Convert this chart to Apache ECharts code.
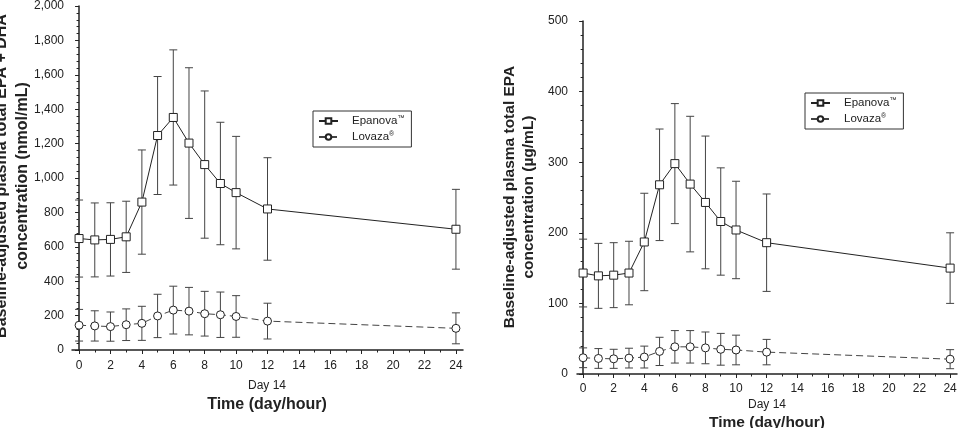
<!DOCTYPE html>
<html>
<head>
<meta charset="utf-8">
<script src="https://cdn.jsdelivr.net/npm/echarts@6/dist/echarts.min.js"></script>
<style>
  html, body { margin: 0; padding: 0; background: #fff; }
  #chart { width: 962px; height: 428px; }
</style>
</head>
<body>
<div id="chart"></div>
<script>
// hours after dosing on day 14
var hours = [0, 1, 2, 3, 4, 5, 6, 7, 8, 9, 10, 12, 24];
var hourLabels = [0, 2, 4, 6, 8, 10, 12, 14, 16, 18, 20, 22, 24];
var hourMinor = [1, 3, 5, 7, 9, 11, 13, 15, 17, 19, 21, 23];

// left panel: EPA + DHA (nmol/mL), mean and SD
var dhaEpanova = [648, 640, 643, 658, 860, 1247, 1352, 1203, 1078, 968, 915, 820, 702];
var dhaEpanovaSd = [224, 215, 213, 207, 303, 343, 393, 438, 428, 356, 327, 298, 232];
var dhaLovaza = [144, 140, 136, 147, 155, 198, 232, 226, 211, 205, 195, 168, 126];
var dhaLovazaSd = [92, 88, 85, 92, 99, 126, 139, 138, 130, 132, 121, 104, 90];

// right panel: EPA (ug/mL), mean and SD
var epaEpanova = [143, 139, 140, 143, 187, 268, 298, 269, 243, 216, 204, 186, 150];
var epaEpanovaSd = [48, 46, 46, 45, 69, 79, 85, 96, 94, 76, 69, 69, 50];
var epaLovaza = [23, 22, 21.5, 22.5, 24, 32, 38.5, 38.5, 37, 35, 34, 31, 21];
var epaLovazaSd = [14, 14, 13.5, 14, 15.5, 20, 23, 23, 22.5, 22.5, 21, 18, 13.5];

var FONT = '"Liberation Sans", Arial, sans-serif';
var INK = '#222';

function pts(ys) {
    return hours.map(function (h, i) { return [h, ys[i]]; });
}
function bars(ys, sd) {
    return hours.map(function (h, i) { return [h, ys[i] - sd[i], ys[i] + sd[i]]; });
}
function comma(v) {
    return String(v).replace(/\B(?=(\d{3})+(?!\d))/g, ',');
}

// error bar with caps
function errorBar(params, api) {
    var x = api.value(0);
    var a = api.coord([x, api.value(2)]);
    var b = api.coord([x, api.value(1)]);
    var w = 4;
    var st = { stroke: '#444', lineWidth: 1 };
    return {
        type: 'group',
        children: [
            { type: 'line', shape: { x1: a[0], y1: a[1], x2: b[0], y2: b[1] }, style: st },
            { type: 'line', shape: { x1: a[0] - w, y1: a[1], x2: a[0] + w, y2: a[1] }, style: st },
            { type: 'line', shape: { x1: b[0] - w, y1: b[1], x2: b[0] + w, y2: b[1] }, style: st }
        ]
    };
}

function xAxes(grid, min, max, margin) {
    return [
        {
            type: 'value', gridIndex: grid, min: min, max: max, position: 'bottom',
            axisLine: { lineStyle: { color: INK, width: 1.5 } },
            axisTick: { customValues: hourLabels, length: 4, lineStyle: { color: INK } },
            axisLabel: { customValues: hourLabels, margin: margin, color: INK, fontSize: 12, fontFamily: FONT },
            splitLine: { show: false }
        },
        {
            type: 'value', gridIndex: grid, min: min, max: max, position: 'bottom',
            axisLine: { show: false },
            axisTick: { customValues: hourMinor, length: 2.5, lineStyle: { color: INK } },
            axisLabel: { show: false },
            splitLine: { show: false }
        }
    ];
}

function yAxis(grid, max, step, margin, fmt) {
    return {
        type: 'value', gridIndex: grid, min: 0, max: max, interval: step,
        axisLine: { show: true, lineStyle: { color: INK, width: 1.5 } },
        axisTick: { show: true, length: 4, lineStyle: { color: INK } },
        minorTick: { show: true, splitNumber: 5, length: 2.5, lineStyle: { color: INK } },
        axisLabel: { margin: margin, color: INK, fontSize: 12, fontFamily: FONT, formatter: fmt },
        splitLine: { show: false }
    };
}

function lineSeries(name, data, xi, yi, dashed) {
    return {
        name: name, type: 'line', xAxisIndex: xi, yAxisIndex: yi, data: pts(data),
        symbol: dashed ? 'circle' : 'rect', symbolSize: 8,
        itemStyle: { color: '#fff', borderColor: INK, borderWidth: 1 },
        lineStyle: { color: dashed ? '#444' : INK, width: 1, type: dashed ? [7, 4] : 'solid' },
        z: 3
    };
}

function errSeries(m, sd, xi, yi) {
    return {
        type: 'custom', xAxisIndex: xi, yAxisIndex: yi, data: bars(m, sd),
        renderItem: errorBar, encode: { x: 0, y: [1, 2] }, z: 2, silent: true
    };
}

function legend(left, top) {
    return {
        left: left, top: top, orient: 'vertical',
        data: ['Epanova', 'Lovaza'],
        borderColor: '#333', borderWidth: 1, padding: [4, 7, 4, 5],
        itemWidth: 19, itemHeight: 7, itemGap: 4,
        formatter: function (n) {
            return n === 'Epanova' ? '{n|Epanova}{s|™}' : '{n|Lovaza}{s|®}';
        },
        textStyle: {
            color: INK, fontFamily: FONT,
            rich: {
                n: { fontSize: 11.5, fontFamily: FONT, color: INK, padding: [0, 0, 0, 9] },
                s: { fontSize: 7, fontFamily: FONT, color: INK, verticalAlign: 'top', padding: [0, 0, 4, 0] }
            }
        }
    };
}

function label(x, y, text, size, bold, rotate, lh) {
    return {
        type: 'text', x: x, y: y, rotation: rotate ? Math.PI / 2 : 0,
        style: {
            text: text, fill: INK, font: (bold ? 'bold ' : '') + size + 'px ' + FONT,
            textAlign: 'center', textVerticalAlign: 'middle', lineHeight: lh || size
        }
    };
}

var myChart = echarts.init(document.getElementById('chart'));
var option = {
    backgroundColor: '#fff',
    animation: false,
    grid: [
        { left: 72, top: 2, width: 391, height: 348 },
        { left: 577, top: 21, width: 380, height: 353 }
    ],
    xAxis: xAxes(0, -0.45, 24.45, 10).concat(xAxes(1, -0.4, 24.45, 9)),
    yAxis: [
        yAxis(0, 2000, 200, 8, comma),
        yAxis(1, 500, 100, 9)
    ],
    legend: [legend(313, 111), legend(805, 93)],
    graphic: [
        label(12, 176, 'Baseline-adjusted plasma total EPA + DHA\nconcentration (nmol/mL)', 16, true, true, 21),
        label(519, 197, 'Baseline-adjusted plasma total EPA\nconcentration (µg/mL)', 15.5, true, true, 18.5),
        label(267, 386, 'Day 14', 12),
        label(267, 405, 'Time (day/hour)', 16, true),
        label(767, 405, 'Day 14', 12),
        label(767, 423, 'Time (day/hour)', 15.5, true)
    ],
    series: [
        errSeries(dhaEpanova, dhaEpanovaSd, 0, 0),
        errSeries(dhaLovaza, dhaLovazaSd, 0, 0),
        lineSeries('Epanova', dhaEpanova, 0, 0, false),
        lineSeries('Lovaza', dhaLovaza, 0, 0, true),
        errSeries(epaEpanova, epaEpanovaSd, 2, 1),
        errSeries(epaLovaza, epaLovazaSd, 2, 1),
        lineSeries('Epanova', epaEpanova, 2, 1, false),
        lineSeries('Lovaza', epaLovaza, 2, 1, true)
    ]
};
myChart.setOption(option);
</script>
</body>
</html>
